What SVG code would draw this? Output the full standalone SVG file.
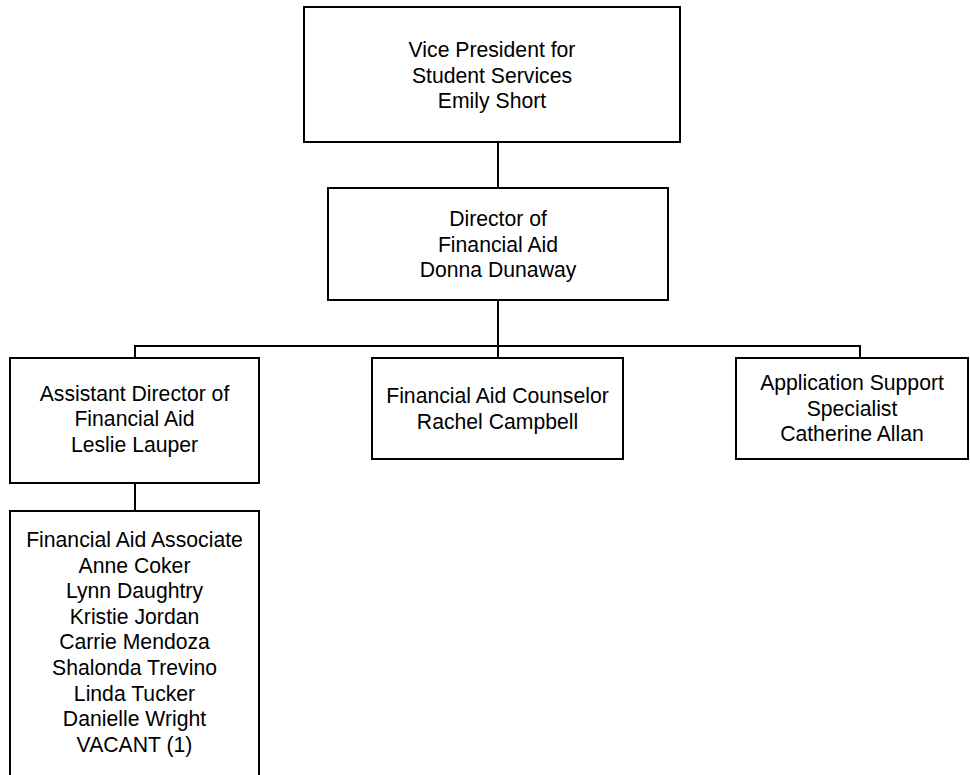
<svg xmlns="http://www.w3.org/2000/svg" width="970" height="775" viewBox="0 0 970 775">
<style>
.box{fill:#fff;stroke:#000;stroke-width:2}
.t{font-family:"Liberation Sans",Arial,sans-serif;font-size:21.2px;fill:#000;text-anchor:middle}
.c{fill:none;stroke:#000;stroke-width:2}
</style>
<rect width="970" height="775" fill="#fff"/>
<g id="connectors">
<path class="c" d="M498,142V188"/>
<path class="c" d="M498,300V358"/>
<path class="c" d="M135,358V346H860V358"/>
<path class="c" d="M135,483V511"/>
</g>
<g id="vp">
<rect class="box" x="304" y="7" width="376" height="135"/>
<text class="t" x="492" y="57">Vice President for</text>
<text class="t" x="492" y="82.5">Student Services</text>
<text class="t" x="492" y="108">Emily Short</text>
</g>
<g id="director">
<rect class="box" x="328" y="188" width="340" height="112"/>
<text class="t" x="498" y="226">Director of</text>
<text class="t" x="498" y="251.5">Financial Aid</text>
<text class="t" x="498" y="277">Donna Dunaway</text>
</g>
<g id="assistant">
<rect class="box" x="10" y="358" width="249" height="125"/>
<text class="t" x="134.5" y="400.5">Assistant Director of</text>
<text class="t" x="134.5" y="426">Financial Aid</text>
<text class="t" x="134.5" y="451.5">Leslie Lauper</text>
</g>
<g id="counselor">
<rect class="box" x="372" y="358" width="251" height="101"/>
<text class="t" x="497.5" y="403">Financial Aid Counselor</text>
<text class="t" x="497.5" y="428.5">Rachel Campbell</text>
</g>
<g id="specialist">
<rect class="box" x="736" y="358" width="232" height="101"/>
<text class="t" x="852" y="390">Application Support</text>
<text class="t" x="852" y="415.5">Specialist</text>
<text class="t" x="852" y="441">Catherine Allan</text>
</g>
<g id="associates">
<rect class="box" x="10" y="511" width="249" height="280"/>
<text class="t" x="134.5" y="547">Financial Aid Associate</text>
<text class="t" x="134.5" y="572.6">Anne Coker</text>
<text class="t" x="134.5" y="598.2">Lynn Daughtry</text>
<text class="t" x="134.5" y="623.8">Kristie Jordan</text>
<text class="t" x="134.5" y="649.4">Carrie Mendoza</text>
<text class="t" x="134.5" y="675">Shalonda Trevino</text>
<text class="t" x="134.5" y="700.6">Linda Tucker</text>
<text class="t" x="134.5" y="726.2">Danielle Wright</text>
<text class="t" x="134.5" y="751.8">VACANT (1)</text>
</g>
</svg>
